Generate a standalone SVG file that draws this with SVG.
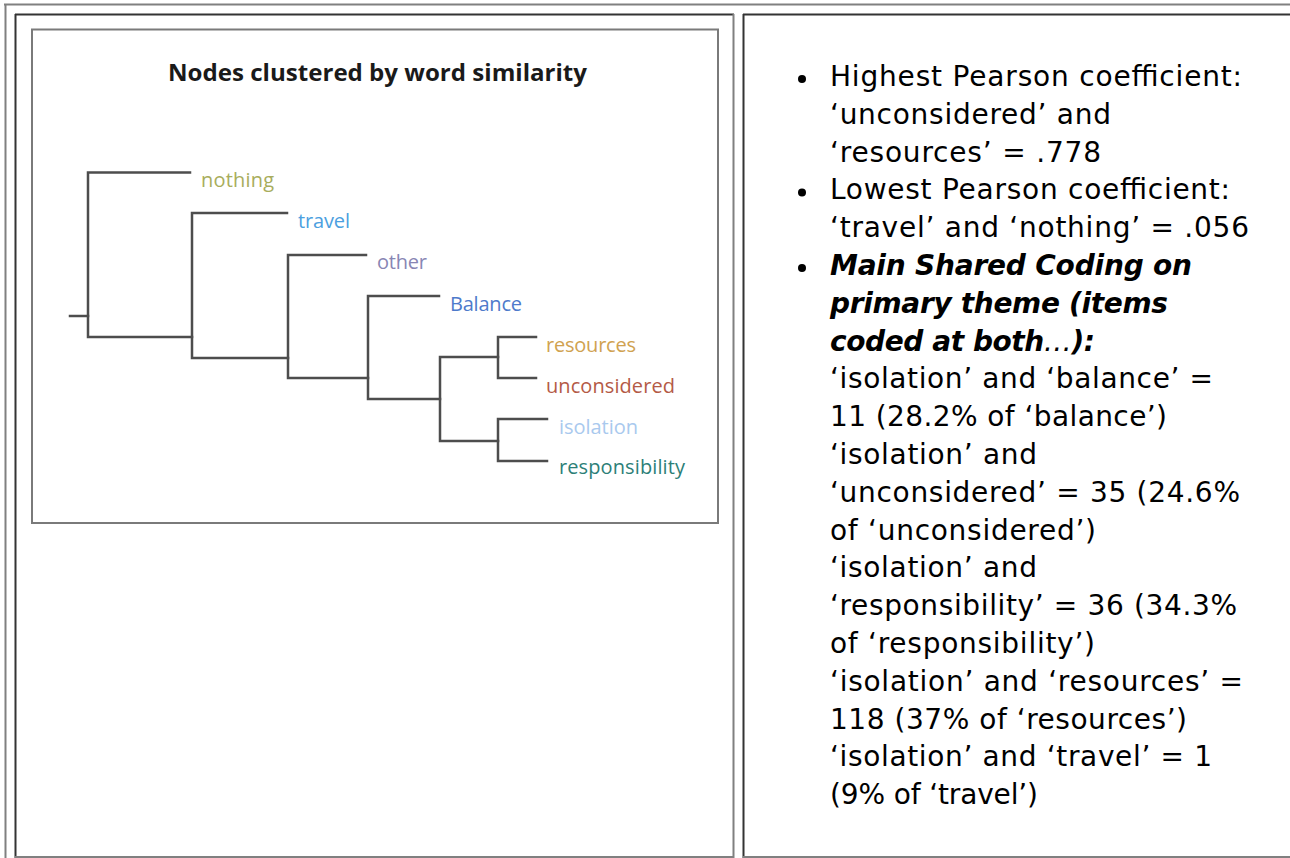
<svg xmlns="http://www.w3.org/2000/svg" width="1290" height="858" viewBox="0 0 1290 858">
<style>
.gray{stroke:#808080;stroke-width:2;fill:none}
.dark{stroke:#333333;stroke-width:2;fill:none}
.den{stroke:#4d4d4d;stroke-width:2.5;fill:none;stroke-linecap:square}
.lbl{font-family:"Open Sans","Noto Sans",sans-serif;font-size:20px}
.ttl{font-family:"Open Sans","Noto Sans",sans-serif;font-size:24px;font-weight:bold;fill:#1a1a1a}
.body{font-family:"DejaVu Sans","Liberation Sans",sans-serif;font-size:28px;fill:#000}
.bi{font-weight:bold;font-style:italic}
.bul{fill:#000}
</style>
<rect x="0" y="0" width="1290" height="858" fill="#ffffff"/>
<g id="table-borders">
  <line class="gray" x1="4" y1="4.5" x2="1290" y2="4.5"/>
  <line class="gray" x1="5.5" y1="4" x2="5.5" y2="858"/>
  <line class="dark" x1="15" y1="14.5" x2="734" y2="14.5"/>
  <line class="dark" x1="15.5" y1="14" x2="15.5" y2="858"/>
  <line class="gray" x1="733.5" y1="14" x2="733.5" y2="858"/>
  <line class="gray" x1="15" y1="857" x2="734" y2="857"/>
  <line class="dark" x1="743" y1="14.5" x2="1290" y2="14.5"/>
  <line class="dark" x1="743.5" y1="14" x2="743.5" y2="858"/>
  <line class="gray" x1="743" y1="857" x2="1290" y2="857"/>
</g>
<g id="figure-frame">
  <rect x="32" y="29.5" width="686" height="493.5" fill="#ffffff" stroke="#7a7a7a" stroke-width="2"/>
  <text class="ttl" x="168" y="81" textLength="419" lengthAdjust="spacingAndGlyphs">Nodes clustered by word similarity</text>
</g>
<g id="connectors">
  <path class="den" d="M70 316 H88"/>
  <path class="den" d="M190 172.5 H88 V337 H192"/>
  <path class="den" d="M287 213 H192 V358 H288"/>
  <path class="den" d="M366 255 H288 V378 H368"/>
  <path class="den" d="M439 296 H368 V399 H440"/>
  <path class="den" d="M498 357 H440 V441 H498"/>
  <path class="den" d="M536 337 H498 V378 H536"/>
  <path class="den" d="M547 419 H498 V461 H547"/>
</g>
<g id="node-nothing"><text class="lbl" x="201" y="187" fill="#a8ad5c" textLength="73">nothing</text></g>
<g id="node-travel"><text class="lbl" x="298" y="228" fill="#4c9fe0" textLength="52">travel</text></g>
<g id="node-other"><text class="lbl" x="377" y="269" fill="#8886b4" textLength="50">other</text></g>
<g id="node-balance"><text class="lbl" x="450" y="311" fill="#4e7acb" textLength="72">Balance</text></g>
<g id="node-resources"><text class="lbl" x="546" y="352" fill="#d0a250" textLength="90">resources</text></g>
<g id="node-unconsidered"><text class="lbl" x="546" y="393" fill="#b45a46" textLength="129">unconsidered</text></g>
<g id="node-isolation"><text class="lbl" x="559" y="434" fill="#a9c9ee" textLength="79">isolation</text></g>
<g id="node-responsibility"><text class="lbl" x="559" y="474" fill="#2d7f78" textLength="126">responsibility</text></g>
<g id="notes">
  <circle class="bul" cx="802" cy="79" r="4"/>
  <circle class="bul" cx="802" cy="192.4" r="4"/>
  <circle class="bul" cx="802" cy="268" r="4"/>
  <text class="body" x="830" y="86" textLength="412">Highest Pearson coefficient:</text>
  <text class="body" x="830" y="123.8" textLength="281">‘unconsidered’ and</text>
  <text class="body" x="830" y="161.6" textLength="271">‘resources’ = .778</text>
  <text class="body" x="830" y="199.4" textLength="400">Lowest Pearson coefficient:</text>
  <text class="body" x="830" y="237.2" textLength="419">‘travel’ and ‘nothing’ = .056</text>
  <text class="body bi" x="830" y="275" textLength="362">Main Shared Coding on</text>
  <text class="body bi" x="830" y="312.8" textLength="338">primary theme (items</text>
  <text class="body" x="830" y="350.6" textLength="265"><tspan class="bi">coded at both</tspan><tspan font-style="italic">…</tspan><tspan class="bi">):</tspan></text>
  <text class="body" x="830" y="388.4" textLength="383">‘isolation’ and ‘balance’ =</text>
  <text class="body" x="830" y="426.2" textLength="337">11 (28.2% of ‘balance’)</text>
  <text class="body" x="830" y="464" textLength="207">‘isolation’ and</text>
  <text class="body" x="830" y="501.8" textLength="410">‘unconsidered’ = 35 (24.6%</text>
  <text class="body" x="830" y="539.6" textLength="266">of ‘unconsidered’)</text>
  <text class="body" x="830" y="577.4" textLength="207">‘isolation’ and</text>
  <text class="body" x="830" y="615.2" textLength="407">‘responsibility’ = 36 (34.3%</text>
  <text class="body" x="830" y="653" textLength="265">of ‘responsibility’)</text>
  <text class="body" x="830" y="690.8" textLength="413">‘isolation’ and ‘resources’ =</text>
  <text class="body" x="830" y="728.6" textLength="357">118 (37% of ‘resources’)</text>
  <text class="body" x="830" y="766.4" textLength="382">‘isolation’ and ‘travel’ = 1</text>
  <text class="body" x="830" y="804.2" textLength="208">(9% of ‘travel’)</text>
</g>
</svg>
